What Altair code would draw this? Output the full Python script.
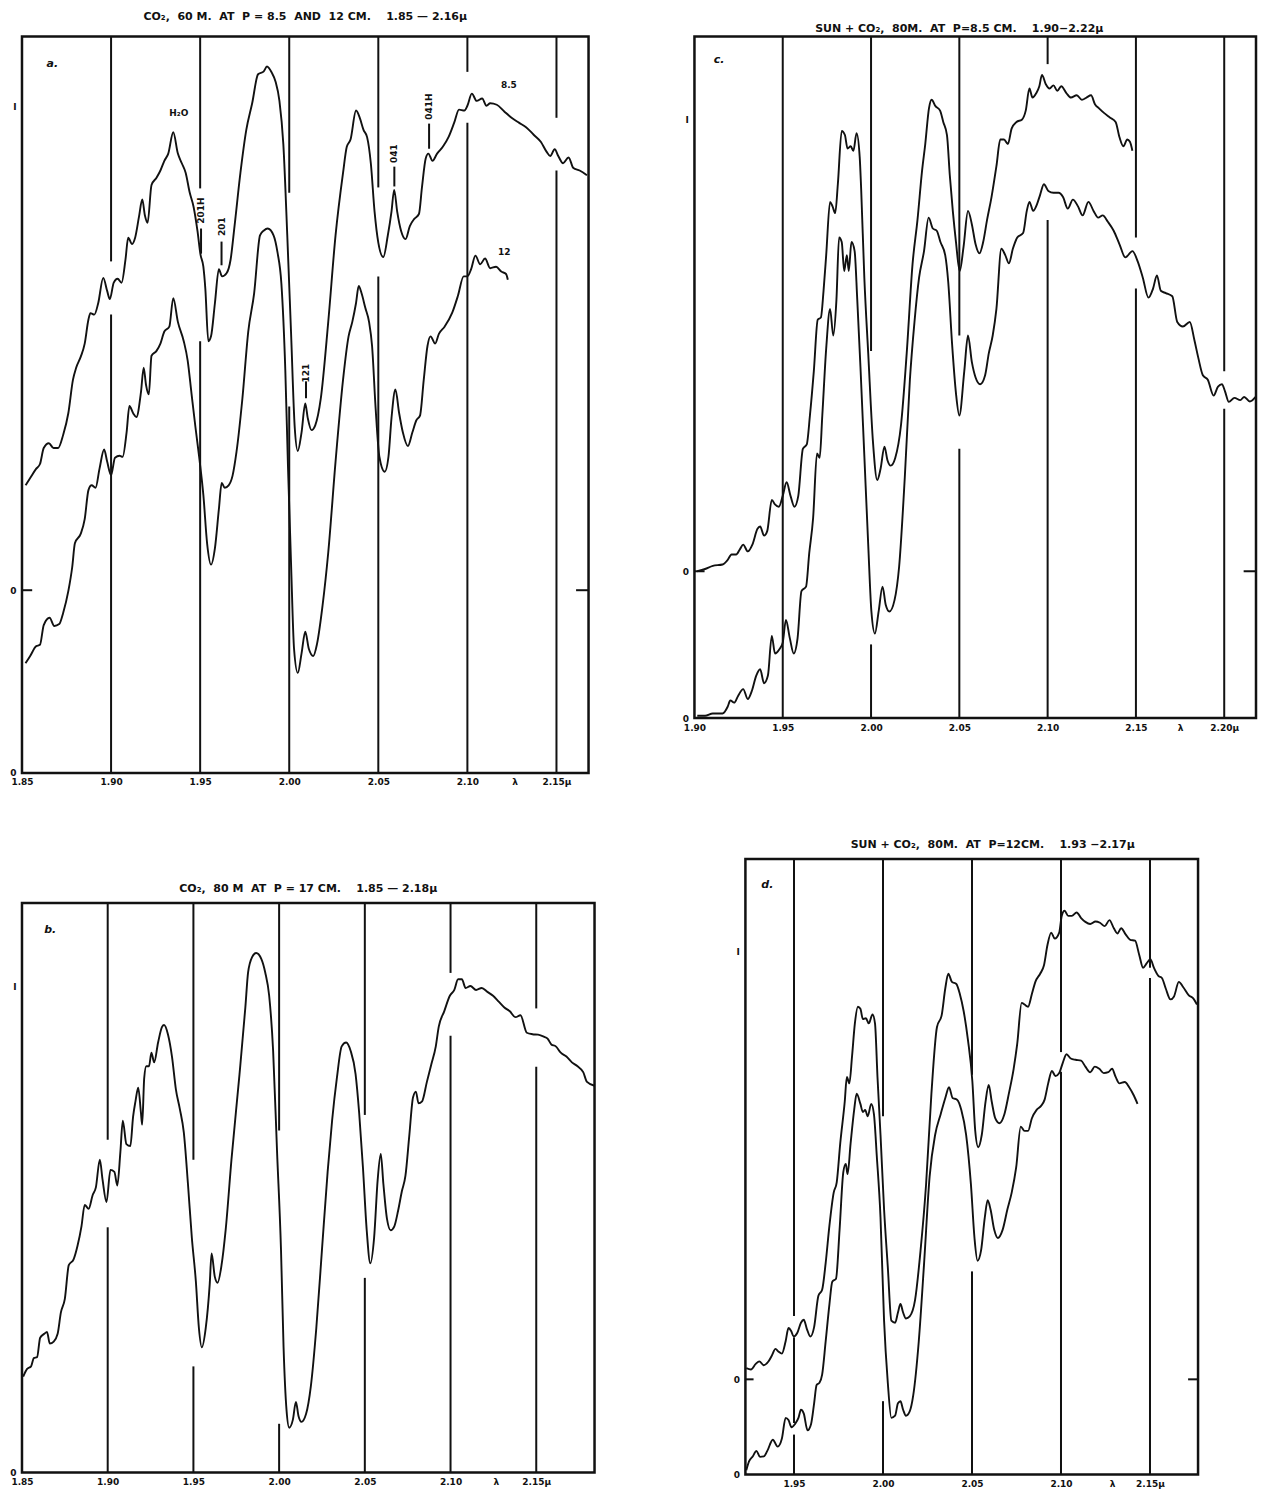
import altair as alt
import pandas as pd

FONT = "DejaVu Sans"
INK = "#111111"
NB = "\u00a0"

# ================= Panel a : CO2, 60 m, P = 8.5 and 12 cm =================
A85_LAM = [1.852, 1.8546, 1.8579, 1.8601, 1.8622, 1.8651, 1.8677, 1.8703, 1.8731, 1.876,
           1.8786, 1.8804, 1.883, 1.8852, 1.8873, 1.8884, 1.8906, 1.8928, 1.8956, 1.8978,
           1.8993, 1.9015, 1.9037, 1.9059, 1.9081, 1.9096, 1.9118, 1.9135, 1.9157, 1.9175,
           1.919, 1.9205, 1.9227, 1.9255, 1.9277, 1.9299, 1.9321, 1.9349, 1.9375, 1.9397,
           1.9419, 1.9441, 1.9463, 1.9485, 1.9502, 1.9518, 1.9529, 1.9546, 1.9561, 1.9583,
           1.9605, 1.9623, 1.9649, 1.9671, 1.9693, 1.9726, 1.9759, 1.9792, 1.9825, 1.9857,
           1.9875, 1.9901, 1.9923, 1.9945, 1.9967, 1.9989, 2.001, 2.0031, 2.0048, 2.0069,
           2.009, 2.0104, 2.0125, 2.0146, 2.0177, 2.0219, 2.026, 2.0302, 2.0323, 2.0344,
           2.0375, 2.0396, 2.0417, 2.0437, 2.0458, 2.0479, 2.05, 2.0528, 2.0553, 2.0574,
           2.0589, 2.0606, 2.0628, 2.0653, 2.0677, 2.0702, 2.0728, 2.0745, 2.0766, 2.0781,
           2.0804, 2.083, 2.0862, 2.0894, 2.0926, 2.0953, 2.0983, 2.10, 2.1025, 2.1052,
           2.1083, 2.1107, 2.1128, 2.1165, 2.1207, 2.1248, 2.1289, 2.1331, 2.1372, 2.1413,
           2.1444, 2.1465, 2.149, 2.151, 2.1537, 2.1568, 2.1595, 2.163, 2.1671]
A85_VAL = [21.7, 23.2, 25.1, 26.1, 29.4, 30.4, 29.4, 29.4, 32.1, 36.6,
           43.5, 46.0, 48.3, 51.0, 56.0, 57.3, 57.0, 59.4, 64.6, 61.9,
           60.2, 63.6, 64.4, 63.6, 68.4, 72.9, 71.6, 72.9, 77.3, 80.8,
           77.5, 76.0, 83.8, 85.3, 86.8, 88.8, 90.3, 94.7, 90.3, 88.3,
           86.3, 82.3, 79.3, 74.3, 69.4, 66.9, 62.4, 51.5, 52.5, 59.4,
           66.4, 64.9, 65.6, 68.4, 75.3, 86.3, 95.2, 100.7, 106.7, 107.3,
           108.3, 107.1, 105.2, 101.2, 92.2, 73.4, 53.5, 33.6, 28.8, 32.6,
           38.6, 35.6, 33.1, 34.1, 39.6, 55.5, 73.4, 86.3, 91.7, 93.2,
           99.2, 97.7, 95.2, 93.7, 88.3, 78.3, 71.9, 68.9, 73.3, 78.3,
           82.8, 78.3, 74.3, 72.6, 75.3, 76.8, 77.8, 83.3, 89.3, 90.3,
           88.8, 90.3, 91.7, 93.7, 96.7, 99.4, 99.2, 100.2, 102.7, 101.2,
           101.7, 100.2, 100.7, 100.4, 99.0, 97.7, 96.7, 95.7, 94.2, 92.7,
           90.7, 89.8, 91.2, 89.8, 88.3, 89.5, 87.3, 86.8, 85.8]
A12_LAM = [1.852, 1.8546, 1.8579, 1.8601, 1.8622, 1.8655, 1.8681, 1.8709, 1.8731, 1.876,
           1.8782, 1.8797, 1.883, 1.8852, 1.8873, 1.8891, 1.8913, 1.8935, 1.8961, 1.8978,
           1.90, 1.9022, 1.9048, 1.9065, 1.9087, 1.9103, 1.9124, 1.9142, 1.9168, 1.9183,
           1.9196, 1.9212, 1.9227, 1.9255, 1.9277, 1.9299, 1.9327, 1.9349, 1.9375, 1.9408,
           1.943, 1.9452, 1.9474, 1.9496, 1.9518, 1.9539, 1.9561, 1.9583, 1.9605, 1.9621,
           1.9638, 1.966, 1.9682, 1.9704, 1.9737, 1.977, 1.9803, 1.9836, 1.9858, 1.9879,
           1.9912, 1.9934, 1.9956, 1.9978, 1.9993, 2.001, 2.0027, 2.0048, 2.0069, 2.009,
           2.011, 2.0135, 2.0156, 2.0187, 2.0219, 2.026, 2.0302, 2.0333, 2.0354, 2.0375,
           2.039, 2.0406, 2.0427, 2.0448, 2.0465, 2.0485, 2.0506, 2.0536, 2.0557, 2.0574,
           2.0596, 2.0617, 2.0638, 2.0666, 2.0691, 2.0713, 2.0734, 2.0755, 2.0776, 2.0793,
           2.0819, 2.084, 2.0872, 2.0915, 2.0947, 2.0979, 2.10, 2.1021, 2.1045, 2.1072,
           2.1099, 2.1128, 2.1161, 2.119, 2.1217, 2.1227]
A12_VAL = [22.7, 24.2, 26.2, 26.5, 30.6, 32.1, 30.4, 30.8, 33.1, 37.6,
           42.6, 47.5, 49.5, 52.5, 58.5, 59.5, 59.0, 62.9, 66.9, 64.4,
           61.6, 65.2, 65.6, 65.4, 70.4, 75.9, 74.4, 73.6, 78.8, 83.8,
           80.3, 78.3, 86.3, 87.3, 88.8, 91.3, 92.3, 98.2, 93.3, 89.3,
           85.3, 78.3, 71.4, 64.9, 57.5, 47.5, 43.1, 46.5, 54.5, 60.0,
           59.0, 59.5, 61.5, 66.4, 77.4, 91.3, 99.2, 111.2, 112.2, 112.6,
           111.2, 107.7, 101.2, 83.3, 63.4, 43.6, 25.7, 20.7, 24.7, 29.2,
           25.7, 24.2, 26.7, 34.6, 45.6, 64.4, 81.3, 90.3, 93.3, 97.2,
           100.7, 99.2, 96.2, 93.3, 88.3, 75.4, 65.4, 62.3, 65.4, 73.4,
           79.3, 74.4, 70.4, 67.6, 70.4, 72.9, 73.9, 81.3, 88.3, 90.3,
           88.8, 90.8, 92.3, 95.2, 98.7, 102.7, 102.7, 104.2, 107.0, 105.2,
           106.4, 104.4, 104.7, 103.7, 103.2, 102.0]
A_ZERO_UPPER = 37.8
A_YMAX = 152.3
A_XDOM = [1.85, 2.168]
A_RULE_LAM = [1.90, 1.90, 1.95, 1.95, 2.00, 2.00, 2.05, 2.05, 2.10, 2.10, 2.15, 2.15]
A_RULE_Y1 = [152.3, 94.8, 152.3, 89.3, 152.3, 75.8, 152.3, 102.7, 152.3, 134.5, 152.3, 124.6]
A_RULE_Y2 = [105.8, 0, 120.9, 0, 120.0, 0, 121.1, 0, 145.0, 0, 135.5, 0]
A_TXT = ["H₂O", "8.5", "12"]
A_TXT_LAM = [1.938, 2.1233, 2.1207]
A_TXT_Y = [136.4, 142.3, 107.7]
A_VTXT = ["201H", "201", "121", "041", "041H"]
A_VTXT_LAM = [1.9505, 1.962, 2.0094, 2.059, 2.0785]
A_VTXT_Y = [116.3, 113.0, 82.7, 128.1, 137.8]
A_VTICK_Y1 = [112.6, 109.9, 81.0, 125.4, 134.3]
A_VTICK_Y2 = [107.4, 105.0, 77.5, 121.3, 129.1]

# ================= Panel b : CO2, 80 m, P = 17 cm =================
B_LAM = [1.8507, 1.853, 1.8553, 1.8569, 1.8588, 1.8606, 1.863, 1.8646, 1.8662, 1.8685,
         1.8708, 1.8727, 1.875, 1.8773, 1.8801, 1.8824, 1.8847, 1.8866, 1.8889, 1.8912,
         1.8931, 1.8954, 1.897, 1.8993, 1.9016, 1.9039, 1.9056, 1.9074, 1.9088, 1.9109,
         1.9132, 1.9148, 1.9162, 1.9178, 1.9194, 1.9201, 1.9213, 1.9225, 1.9241, 1.9255,
         1.9271, 1.9294, 1.9317, 1.9329, 1.9352, 1.9375, 1.9398, 1.9421, 1.9444, 1.9468,
         1.9491, 1.9514, 1.9532, 1.9549, 1.9572, 1.9595, 1.9606, 1.9625, 1.9641, 1.9664,
         1.9688, 1.9722, 1.9769, 1.9803, 1.9819, 1.9843, 1.9866, 1.9896, 1.9919, 1.9942,
         1.9965, 1.9988, 2.0011, 2.0026, 2.0043, 2.0059, 2.008, 2.0098, 2.0113, 2.013,
         2.0157, 2.0185, 2.0217, 2.025, 2.0283, 2.0309, 2.0337, 2.0365, 2.0391, 2.0417,
         2.0446, 2.0467, 2.0489, 2.0511, 2.0532, 2.0554, 2.0575, 2.0593, 2.0608, 2.0629,
         2.0651, 2.0672, 2.0694, 2.0716, 2.0737, 2.0759, 2.0781, 2.0798, 2.0813, 2.0834,
         2.0862, 2.0888, 2.0914, 2.0931, 2.0963, 2.0996, 2.1022, 2.1044, 2.1066, 2.1088,
         2.1116, 2.1149, 2.1182, 2.1215, 2.1248, 2.1281, 2.1314, 2.1346, 2.1379, 2.1408,
         2.1445, 2.1478, 2.1511, 2.1544, 2.1566, 2.1588, 2.1614, 2.1643, 2.1676, 2.1708,
         2.1741, 2.1774, 2.1796, 2.184]
B_VAL = [19.7, 21.3, 21.8, 23.5, 23.7, 27.7, 28.5, 28.9, 26.5, 26.9,
         28.5, 32.9, 35.7, 42.6, 43.8, 46.6, 50.6, 55.0, 54.2, 57.0,
         58.6, 64.3, 60.2, 55.6, 62.2, 61.8, 59.0, 65.9, 72.3, 67.5,
         67.1, 73.1, 76.3, 79.1, 73.9, 71.5, 81.1, 83.5, 83.5, 86.3,
         84.3, 88.4, 91.6, 92.0, 90.0, 85.5, 78.7, 74.7, 69.9, 59.4,
         48.2, 39.4, 29.7, 25.7, 29.7, 38.6, 45.0, 40.2, 39.0, 42.6,
         49.8, 64.3, 81.9, 95.6, 102.8, 106.0, 106.8, 105.6, 102.8, 98.0,
         86.7, 65.9, 45.8, 25.7, 12.9, 9.2, 10.8, 14.5, 11.6, 10.4,
         12.0, 17.7, 29.7, 45.8, 61.8, 72.3, 81.1, 87.6, 88.4, 86.7,
         81.9, 73.9, 62.7, 49.8, 43.0, 48.2, 60.2, 65.5, 59.4, 52.2,
         49.8, 50.6, 53.8, 57.8, 61.0, 69.1, 77.1, 78.3, 75.9, 76.3,
         80.3, 83.9, 87.6, 91.6, 94.8, 98.0, 99.2, 101.4, 101.4, 99.6,
         100.0, 99.2, 99.6, 98.8, 98.0, 96.8, 95.6, 94.8, 93.6, 94.0,
         90.4, 90.1, 90.0, 89.6, 89.2, 88.0, 87.6, 86.3, 85.5, 84.3,
         83.5, 82.3, 80.3, 79.5]
B_YMAX = 117.1
B_XDOM = [1.85, 2.184]
B_RULE_LAM = [1.90, 1.90, 1.95, 1.95, 2.00, 2.00, 2.05, 2.05, 2.10, 2.10, 2.15, 2.15]
B_RULE_Y1 = [117.1, 50.4, 117.1, 21.8, 117.1, 10.0, 117.1, 40.0, 117.1, 89.8, 117.1, 83.4]
B_RULE_Y2 = [68.4, 0, 64.3, 0, 70.3, 0, 73.5, 0, 102.7, 0, 95.4, 0]

# ================= Panel c : Sun + CO2, 80 m, P = 8.5 cm =================
C_UP_LAM = [1.9016, 1.906, 1.9104, 1.9159, 1.9188, 1.921, 1.9236, 1.9258, 1.9276, 1.9302,
            1.9328, 1.9357, 1.9372, 1.9394, 1.9412, 1.9438, 1.9456, 1.9478, 1.95, 1.9522,
            1.9544, 1.9566, 1.9588, 1.9614, 1.9636, 1.9654, 1.9676, 1.9698, 1.9716, 1.9731,
            1.9746, 1.9768, 1.9782, 1.9797, 1.9812, 1.9834, 1.9852, 1.9867, 1.9885, 1.99,
            1.9918, 1.9936, 1.9944, 1.9962, 1.9984, 2.0011, 2.0035, 2.0054, 2.0076, 2.0093,
            2.0111, 2.0137, 2.017, 2.0202, 2.0235, 2.0263, 2.0289, 2.0307, 2.0328, 2.0343,
            2.0365, 2.0391, 2.0409, 2.043, 2.0446, 2.0463, 2.0481, 2.0502, 2.0524, 2.0549,
            2.0571, 2.0592, 2.0614, 2.0635, 2.0657, 2.0682, 2.071, 2.0732, 2.0753, 2.0775,
            2.0796, 2.0824, 2.0854, 2.0876, 2.0897, 2.0914, 2.0936, 2.0953, 2.0968, 2.0989,
            2.1011, 2.1033, 2.1055, 2.1077, 2.1106, 2.1132, 2.1165, 2.1194, 2.122, 2.1246,
            2.1268, 2.1291, 2.1319, 2.1352, 2.1385, 2.1407, 2.1429, 2.1451, 2.1466, 2.148]
C_UP_VAL = [0.0, 0.5, 1.2, 1.5, 2.5, 3.7, 3.7, 4.9, 5.9, 4.4,
            5.9, 9.4, 9.9, 7.9, 8.9, 15.8, 14.8, 14.3, 16.7, 19.7,
            16.7, 14.3, 16.7, 27.1, 28.1, 34.5, 44.3, 55.7, 56.2, 62.1,
            70.0, 81.8, 80.8, 79.3, 85.7, 97.5, 96.6, 93.6, 94.1, 93.1,
            97.0, 91.6, 84.7, 65.0, 48.3, 28.6, 20.2, 22.7, 27.6, 24.6,
            23.4, 25.1, 32.5, 48.3, 68.0, 77.8, 88.7, 94.6, 102.5, 104.4,
            103.0, 102.0, 99.5, 96.6, 87.7, 79.8, 72.9, 66.5, 71.9, 79.8,
            76.8, 72.4, 70.4, 72.9, 77.8, 82.8, 89.7, 95.6, 95.6, 94.6,
            98.0, 99.5, 100.0, 102.0, 106.9, 104.9, 105.9, 107.4, 109.9, 107.9,
            106.9, 107.6, 106.4, 107.4, 105.9, 104.9, 105.4, 104.4, 104.9, 105.4,
            103.4, 102.5, 101.5, 100.5, 99.5, 96.1, 94.1, 95.6, 95.1, 93.1]
C_LO_LAM = [1.9016, 1.906, 1.9104, 1.9159, 1.9188, 1.9203, 1.9225, 1.9247, 1.9276, 1.9302,
            1.9324, 1.935, 1.9372, 1.9394, 1.9416, 1.9438, 1.9456, 1.9482, 1.95, 1.9518,
            1.954, 1.9562, 1.9584, 1.9606, 1.9632, 1.965, 1.9672, 1.9694, 1.9709, 1.9724,
            1.9746, 1.9768, 1.9786, 1.9804, 1.9819, 1.9834, 1.9848, 1.9863, 1.9874, 1.9889,
            1.9907, 1.9922, 1.994, 1.9962, 1.9984, 2.0002, 2.0022, 2.0043, 2.0065, 2.0083,
            2.0104, 2.0133, 2.0159, 2.0191, 2.022, 2.0246, 2.0272, 2.03, 2.0326, 2.035,
            2.0372, 2.0393, 2.042, 2.0437, 2.0459, 2.0481, 2.05, 2.0528, 2.0549, 2.0571,
            2.0592, 2.0618, 2.0646, 2.0667, 2.0689, 2.071, 2.0738, 2.076, 2.0781, 2.0803,
            2.0828, 2.0861, 2.0882, 2.0897, 2.0918, 2.094, 2.0957, 2.0979, 2.1004, 2.1033,
            2.1062, 2.1088, 2.1114, 2.1143, 2.1172, 2.1198, 2.1231, 2.126, 2.1286, 2.1312,
            2.1341, 2.1374, 2.1407, 2.144, 2.148, 2.1511, 2.1539, 2.1571, 2.1597, 2.1619,
            2.1641, 2.1669, 2.1706, 2.1734, 2.1766, 2.1805, 2.1831, 2.1853, 2.1879, 2.1907,
            2.194, 2.1965, 2.1987, 2.2004, 2.2026, 2.2058, 2.2091, 2.2113, 2.2145, 2.2178]
C_LO_VAL = [0.5, 0.5, 1.0, 1.0, 2.5, 3.9, 3.4, 4.9, 6.4, 4.2,
            5.9, 9.4, 10.8, 7.7, 9.4, 18.2, 14.3, 15.3, 16.7, 21.7,
            17.7, 14.3, 17.7, 28.1, 29.1, 36.5, 44.3, 58.6, 57.6, 67.0,
            81.8, 90.6, 84.7, 92.6, 106.4, 105.4, 99.0, 102.5, 99.0, 105.4,
            103.4, 92.6, 77.8, 58.1, 38.4, 23.6, 18.7, 23.6, 29.1, 25.1,
            23.6, 26.1, 33.5, 53.2, 74.9, 87.7, 97.5, 103.4, 110.8, 108.4,
            107.9, 105.4, 102.5, 96.6, 82.8, 71.9, 67.0, 76.8, 84.7, 78.8,
            75.4, 73.9, 75.9, 80.8, 84.7, 90.6, 103.9, 102.5, 100.7, 103.9,
            106.4, 107.4, 112.3, 114.3, 112.3, 113.8, 115.8, 118.2, 116.7, 116.3,
            116.3, 115.3, 112.8, 114.8, 113.3, 111.3, 114.3, 112.3, 110.8, 111.3,
            109.9, 107.9, 104.9, 102.0, 103.4, 101.0, 97.5, 93.1, 95.1, 98.0,
            94.6, 94.1, 93.4, 87.7, 86.7, 87.7, 83.7, 79.8, 75.9, 74.9,
            71.4, 73.4, 73.9, 72.4, 70.0, 70.9, 70.4, 71.1, 70.1, 71.1]
C_ZERO_UPPER = 32.5
C_YMAX = 150.9
C_XDOM = [1.90, 2.218]
C_RULE_LAM = [1.95, 2.00, 2.00, 2.05, 2.05, 2.10, 2.10, 2.15, 2.15, 2.20, 2.20]
C_RULE_Y1 = [150.9, 150.9, 16.3, 150.9, 59.6, 150.9, 110.3, 150.9, 95.1, 150.9, 68.5]
C_RULE_Y2 = [0, 81.3, 0, 84.7, 0, 144.8, 0, 106.4, 0, 76.8, 0]

# ================= Panel d : Sun + CO2, 80 m, P = 12 cm =================
D_UP_LAM = [1.9232, 1.9258, 1.9285, 1.9305, 1.933, 1.9355, 1.9375, 1.9396, 1.9412, 1.9432,
            1.9453, 1.9469, 1.9484, 1.9498, 1.9518, 1.9539, 1.9555, 1.9572, 1.9592, 1.9613,
            1.9637, 1.9658, 1.9678, 1.9699, 1.9723, 1.974, 1.976, 1.9785, 1.9797, 1.9811,
            1.9826, 1.9842, 1.9859, 1.9873, 1.9887, 1.9904, 1.992, 1.9941, 1.9955, 1.9969,
            1.9986, 2.0006, 2.0027, 2.0047, 2.0068, 2.0084, 2.0098, 2.0113, 2.0129, 2.015,
            2.018, 2.0211, 2.0242, 2.0272, 2.0303, 2.033, 2.035, 2.0367, 2.0387, 2.0412,
            2.0432, 2.0453, 2.0477, 2.0502, 2.0518, 2.0535, 2.0555, 2.0576, 2.0594, 2.0611,
            2.0631, 2.0654, 2.0682, 2.0707, 2.0734, 2.0754, 2.0779, 2.0795, 2.0815, 2.0836,
            2.0856, 2.0883, 2.0904, 2.0924, 2.0945, 2.0965, 2.099, 2.1004, 2.102, 2.1041,
            2.1061, 2.1088, 2.1113, 2.1137, 2.1164, 2.1194, 2.1219, 2.1246, 2.1272, 2.1297,
            2.1317, 2.1338, 2.1363, 2.1389, 2.1416, 2.144, 2.1461, 2.1481, 2.1502, 2.1522,
            2.1547, 2.1567, 2.1588, 2.1615, 2.1635, 2.1662, 2.1686, 2.1717, 2.1744, 2.1764]
D_UP_VAL = [2.6, 2.3, 3.6, 4.2, 3.3, 4.1, 5.5, 7.1, 6.5, 6.0,
            8.9, 12.0, 11.3, 10.0, 10.8, 13.2, 13.9, 11.8, 10.0, 12.2,
            19.5, 20.9, 27.2, 35.9, 43.6, 46.0, 55.2, 64.8, 70.6, 69.1,
            75.4, 83.1, 87.0, 86.5, 84.1, 84.3, 83.1, 85.2, 83.1, 70.6,
            57.1, 39.7, 26.2, 13.7, 13.2, 15.6, 17.6, 15.6, 14.2, 14.7,
            18.5, 30.1, 45.5, 66.7, 82.2, 85.1, 91.3, 94.7, 92.8, 92.3,
            89.9, 86.0, 79.3, 69.6, 58.1, 54.2, 57.1, 64.8, 68.7, 64.8,
            60.9, 59.8, 61.9, 66.7, 72.5, 78.3, 87.9, 87.5, 87.0, 89.9,
            92.8, 94.7, 96.6, 101.4, 104.3, 102.9, 104.3, 108.2, 109.4, 108.2,
            108.2, 109.0, 107.7, 106.8, 106.3, 106.9, 106.6, 105.8, 107.2, 105.3,
            104.1, 105.3, 103.9, 102.6, 102.4, 99.0, 96.1, 97.1, 98.1, 96.1,
            94.2, 93.7, 91.3, 88.7, 89.4, 92.8, 91.6, 89.7, 88.9, 87.5]
D_LO_LAM = [1.9232, 1.9248, 1.9268, 1.9289, 1.9309, 1.933, 1.935, 1.9381, 1.9408, 1.9432,
            1.9453, 1.9469, 1.9486, 1.9506, 1.9525, 1.9539, 1.9555, 1.9576, 1.9596, 1.9613,
            1.9627, 1.9643, 1.9658, 1.9678, 1.9699, 1.9715, 1.9736, 1.9756, 1.9777, 1.9791,
            1.9801, 1.9818, 1.9838, 1.9852, 1.9873, 1.9887, 1.99, 1.9914, 1.9934, 1.9949,
            1.9965, 1.9986, 2.0006, 2.0027, 2.0047, 2.0068, 2.0084, 2.0098, 2.0113, 2.0129,
            2.015, 2.017, 2.0201, 2.0231, 2.0262, 2.0293, 2.0324, 2.035, 2.0371, 2.0391,
            2.0416, 2.044, 2.0467, 2.0494, 2.0514, 2.0531, 2.0551, 2.0572, 2.0588, 2.0604,
            2.0625, 2.0645, 2.0672, 2.0699, 2.0723, 2.0748, 2.0774, 2.0795, 2.0815, 2.0836,
            2.0863, 2.0887, 2.0908, 2.0928, 2.0949, 2.0969, 2.099, 2.101, 2.1031, 2.1055,
            2.1082, 2.1113, 2.1137, 2.1164, 2.119, 2.1215, 2.124, 2.1266, 2.1287, 2.1307,
            2.1328, 2.1358, 2.1383, 2.141, 2.143]
D_LO_VAL = [1.0, 3.1, 4.2, 5.5, 4.1, 4.2, 5.5, 8.1, 6.5, 8.4,
            13.2, 12.7, 11.0, 11.8, 13.2, 15.1, 14.2, 10.3, 11.8, 16.6,
            20.9, 21.4, 23.3, 31.1, 39.7, 45.0, 45.7, 57.1, 70.6, 72.5,
            70.1, 77.3, 85.1, 88.9, 86.5, 84.6, 85.1, 83.6, 86.5, 84.1,
            74.4, 60.0, 35.9, 21.4, 13.2, 13.7, 16.6, 17.1, 15.1, 13.7,
            14.7, 18.5, 31.1, 49.4, 69.6, 79.3, 84.1, 87.9, 90.4, 87.9,
            87.5, 85.1, 79.3, 67.7, 55.2, 49.9, 52.3, 60.0, 64.0, 61.9,
            57.1, 55.2, 57.1, 61.9, 65.8, 71.6, 81.2, 80.2, 80.2, 83.1,
            85.1, 86.0, 87.5, 91.3, 94.2, 93.0, 93.7, 96.1, 98.1, 97.1,
            96.8, 96.6, 95.2, 93.9, 95.2, 94.7, 93.7, 93.9, 94.7, 92.8,
            91.3, 91.6, 90.4, 88.4, 86.5]
D_ZERO_UPPER = 22.2
D_YMAX = 143.7
D_XDOM = [1.9227, 2.177]
D_RULE_LAM = [1.95, 1.95, 1.95, 2.00, 2.00, 2.05, 2.05, 2.10, 2.10, 2.15, 2.15]
D_RULE_Y1 = [143.7, 32.0, 9.3, 143.7, 17.1, 143.7, 47.4, 143.7, 94.0, 143.7, 115.9]
D_RULE_Y2 = [37.0, 12.0, 0, 83.6, 0, 93.3, 0, 98.6, 0, 118.3, 0]

# ----- axis labels -----
AB_XVALS = [1.85, 1.90, 1.95, 2.00, 2.05, 2.10, 2.1265, 2.15]
AB_XLABS = ["1.85", "1.90", "1.95", "2.00", "2.05", "2.10", "λ", "2.15μ"]
C_XVALS = [1.90, 1.95, 2.00, 2.05, 2.10, 2.15, 2.175, 2.20]
C_XLABS = ["1.90", "1.95", "2.00", "2.05", "2.10", "2.15", "λ", "2.20μ"]
D_XVALS = [1.95, 2.00, 2.05, 2.10, 2.1287, 2.15]
D_XLABS = ["1.95", "2.00", "2.05", "2.10", "λ", "2.15μ"]


def sp(*words, gap=2):
    return (NB * gap).join(words)


TITLES = {
    "a": sp("CO₂,", "60 M.", "AT", "P = 8.5", "AND", "12 CM.", "", "1.85 — 2.16μ"),
    "b": sp("CO₂,", "80 M", "AT", "P = 17 CM.", "", "1.85 — 2.18μ"),
    "c": sp("SUN + CO₂,", "80M.", "AT", "P=8.5 CM.", "", "1.90−2.22μ"),
    "d": sp("SUN + CO₂,", "80M.", "AT", "P=12CM.", "", "1.93 −2.17μ"),
}


def lab_expr(vals, labs):
    parts = [f"abs(datum.value-({v}))<0.0001?'{t}'" for v, t in zip(vals, labs)]
    return ":".join(parts) + ":''"


def make_panel(curves, rules, xdom, ymax, xvals, xlabs, yvals, ylabs, zero_upper,
               letter, letter_pos, width, height, title, title_offset, title_dx,
               texts=None, vtexts=None):
    xs = alt.Scale(domain=xdom, nice=False, zero=False)
    ys = alt.Scale(domain=[0, ymax], nice=False, zero=False)
    xaxis = alt.Axis(values=xvals, labelExpr=lab_expr(xvals, xlabs), ticks=False,
                     domain=False, grid=False, title=None, labelFont=FONT,
                     labelFontWeight="bold", labelFontSize=9, labelPadding=5,
                     labelFlush=False, labelOverlap=False, labelColor=INK)
    yaxis = alt.Axis(values=yvals, labelExpr=lab_expr(yvals, ylabs), ticks=False,
                     domain=False, grid=False, title=None, labelFont=FONT,
                     labelFontWeight="bold", labelFontSize=9, labelPadding=6,
                     labelOverlap=False, labelColor=INK, minExtent=0)

    def X(f):
        return alt.X(f"{f}:Q", scale=xs, axis=xaxis)

    def Y(f):
        return alt.Y(f"{f}:Q", scale=ys, axis=yaxis)

    layers = []
    rdf = pd.DataFrame({"lam": rules[0], "y1": rules[1], "y2": rules[2]})
    layers.append(alt.Chart(rdf).mark_rule(color=INK, strokeWidth=2).encode(
        x=X("lam"), y=Y("y1"), y2="y2:Q"))

    if zero_upper is not None:
        span = xdom[1] - xdom[0]
        zdf = pd.DataFrame({"x1": [xdom[0], xdom[1] - 0.022 * span],
                            "x2": [xdom[0] + 0.018 * span, xdom[1]],
                            "y": [zero_upper, zero_upper]})
        layers.append(alt.Chart(zdf).mark_rule(color=INK, strokeWidth=2).encode(
            x=X("x1"), x2="x2:Q", y=Y("y")))

    frames = []
    for name, lam, val, off in curves:
        frames.append(pd.DataFrame({"lam": lam, "y": [v + off for v in val], "s": name}))
    cdf = pd.concat(frames, ignore_index=True)
    layers.append(alt.Chart(cdf).mark_line(color=INK, strokeWidth=1.9,
                                           interpolate="monotone").encode(
        x=X("lam"), y=Y("y"), detail="s:N"))

    if texts is not None:
        tdf = pd.DataFrame({"lam": texts[1], "y": texts[2], "t": texts[0]})
        layers.append(alt.Chart(tdf).mark_text(font=FONT, fontWeight="bold", fontSize=9,
                                               color=INK).encode(
            x=X("lam"), y=Y("y"), text="t:N"))
    if vtexts is not None:
        vdf = pd.DataFrame({"lam": vtexts[1], "y": vtexts[2], "t": vtexts[0]})
        layers.append(alt.Chart(vdf).mark_text(font=FONT, fontWeight="bold", fontSize=9,
                                               angle=270, color=INK).encode(
            x=X("lam"), y=Y("y"), text="t:N"))
        kdf = pd.DataFrame({"lam": vtexts[1], "y1": vtexts[3], "y2": vtexts[4]})
        layers.append(alt.Chart(kdf).mark_rule(color=INK, strokeWidth=2).encode(
            x=X("lam"), y=Y("y1"), y2="y2:Q"))

    ldf = pd.DataFrame({"lam": [letter_pos[0]], "y": [letter_pos[1]], "t": [letter]})
    layers.append(alt.Chart(ldf).mark_text(font=FONT, fontWeight="bold", fontStyle="italic",
                                           fontSize=11, color=INK).encode(
        x=X("lam"), y=Y("y"), text="t:N"))

    return alt.layer(*layers).properties(
        width=width, height=height,
        title=alt.TitleParams(text=title, font=FONT, fontSize=11, fontWeight="bold",
                              color=INK, offset=title_offset, dx=title_dx,
                              frame="group", anchor="middle"))


pa = make_panel(
    curves=[("8.5", A85_LAM, A85_VAL, A_ZERO_UPPER), ("12", A12_LAM, A12_VAL, 0.0)],
    rules=(A_RULE_LAM, A_RULE_Y1, A_RULE_Y2), xdom=A_XDOM, ymax=A_YMAX,
    xvals=AB_XVALS, xlabs=AB_XLABS,
    yvals=[0, A_ZERO_UPPER, A_ZERO_UPPER + 100], ylabs=["0", "0", "I"],
    zero_upper=A_ZERO_UPPER, letter="a.", letter_pos=(1.867, 146.7),
    width=567, height=737, title=TITLES["a"], title_offset=14, title_dx=0,
    texts=(A_TXT, A_TXT_LAM, A_TXT_Y),
    vtexts=(A_VTXT, A_VTXT_LAM, A_VTXT_Y, A_VTICK_Y1, A_VTICK_Y2))

pb = make_panel(
    curves=[("17", B_LAM, B_VAL, 0.0)],
    rules=(B_RULE_LAM, B_RULE_Y1, B_RULE_Y2), xdom=B_XDOM, ymax=B_YMAX,
    xvals=AB_XVALS, xlabs=AB_XLABS,
    yvals=[0, 100], ylabs=["0", "I"],
    zero_upper=None, letter="b.", letter_pos=(1.8665, 111.6),
    width=573, height=570, title=TITLES["b"], title_offset=8, title_dx=0)

pc = make_panel(
    curves=[("up", C_UP_LAM, C_UP_VAL, C_ZERO_UPPER), ("lo", C_LO_LAM, C_LO_VAL, 0.0)],
    rules=(C_RULE_LAM, C_RULE_Y1, C_RULE_Y2), xdom=C_XDOM, ymax=C_YMAX,
    xvals=C_XVALS, xlabs=C_XLABS,
    yvals=[0, C_ZERO_UPPER, C_ZERO_UPPER + 100], ylabs=["0", "0", "I"],
    zero_upper=C_ZERO_UPPER, letter="c.", letter_pos=(1.914, 145.8),
    width=562, height=682, title=TITLES["c"], title_offset=2, title_dx=-16)

pd_ = make_panel(
    curves=[("up", D_UP_LAM, D_UP_VAL, D_ZERO_UPPER), ("lo", D_LO_LAM, D_LO_VAL, 0.0)],
    rules=(D_RULE_LAM, D_RULE_Y1, D_RULE_Y2), xdom=D_XDOM, ymax=D_YMAX,
    xvals=D_XVALS, xlabs=D_XLABS,
    yvals=[0, D_ZERO_UPPER, D_ZERO_UPPER + 100], ylabs=["0", "0", "I"],
    zero_upper=D_ZERO_UPPER, letter="d.", letter_pos=(1.935, 137.6),
    width=453, height=616, title=TITLES["d"], title_offset=8, title_dx=21)

# invisible spacer that shifts panel d to the right of panel c's left edge
spacer = alt.Chart(pd.DataFrame({"v": [0]})).mark_point(opacity=0).properties(
    width=1, height=10, view=alt.ViewBackground(stroke="transparent"))

left = alt.vconcat(pa, pb, spacing=92)
right = alt.vconcat(pc, alt.hconcat(spacer, pd_, spacing=33), spacing=103)
chart = alt.hconcat(left, right, spacing=80).properties(
    padding={"left": 0, "top": 0, "right": 0, "bottom": 0}
).configure_view(stroke=INK, strokeWidth=2.5)

chart.save("out.html", embed_options={"renderer": "svg", "actions": False})
